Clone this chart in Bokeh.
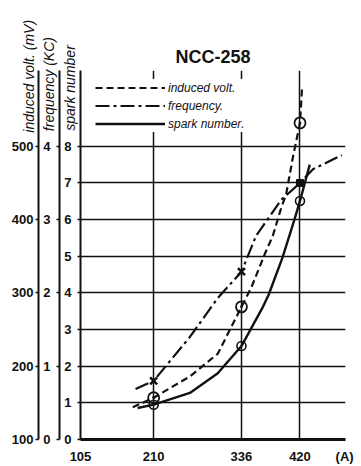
from bokeh.plotting import figure
from bokeh.models import Range1d, LinearAxis, FixedTicker, Legend, LegendItem
from bokeh.embed import file_html
from bokeh.resources import INLINE

# ---------------- data ----------------
current_ticks = [105, 210, 336, 420]          # (A)
unit_tick = 484                               # where "(A)" sits on the x axis
unit_text = "(A)"
marker_current = [210, 336, 420]

volt_ticks = [100, 200, 300, 400, 500]        # induced volt (mV)
freq_ticks = [0, 1, 2, 3, 4]                  # frequency (KC)
spark_ticks = [0, 1, 2, 3, 4, 5, 6, 7, 8]     # spark number

volt_curve_current = [180, 210, 262, 302, 336, 350, 369, 381, 393, 400, 410, 420, 423]
volt_curve_mv = [144, 157, 186, 217, 281, 307, 352, 378, 416, 434, 486, 532, 580]
volt_points_mv = [157, 281, 532]

freq_curve_current = [184, 210, 262, 302, 336, 357, 379, 393, 420, 439, 480]
freq_curve_kc = [0.69, 0.80, 1.40, 1.93, 2.29, 2.78, 3.08, 3.27, 3.50, 3.69, 3.88]
freq_points_kc = [0.80, 2.29, 3.50]

spark_curve_current = [187, 210, 262, 302, 336, 366, 375, 395, 412, 420, 434]
spark_curve_num = [0.86, 0.95, 1.27, 1.81, 2.55, 3.59, 3.95, 4.97, 6.0, 6.51, 7.5]
spark_points_num = [0.95, 2.55, 6.51]

title_text = "NCC-258"
volt_title = "induced volt. (mV)"
freq_title = "frequency (KC)"
spark_title = "spark number"

# ---------------- figure ----------------
INK = "#111111"
TICK_FONT = "Liberation Sans"
HAND_FONT = "Liberation Sans"
NBSP = "\u00a0"

X0, X1 = 105, 485.3
S_TOP = 10.07
p = figure(width=361, height=466, output_backend="svg", toolbar_location=None,
           x_range=Range1d(X0, X1), y_range=Range1d(0, S_TOP),
           min_border_left=80, min_border_right=16, min_border_top=70,
           min_border_bottom=21, outline_line_color=None,
           background_fill_color="white", border_fill_color="white")

p.extra_y_ranges = {
    "freq": Range1d(0, S_TOP / 2.0),
    "volt": Range1d(100, 100 + 50 * S_TOP),
}

p.title.text = title_text
p.title.align = "center"
p.title.offset = -5
p.title.standoff = 7
p.title.text_font = TICK_FONT
p.title.text_font_style = "bold"
p.title.text_font_size = "18px"
p.title.text_color = INK

def style_axis(ax, standoff, title, title_standoff, top_pad):
    ax.axis_line_color = INK
    ax.axis_line_width = 2
    ax.major_tick_line_color = INK
    ax.major_tick_line_width = 1.5
    ax.major_tick_out = 3
    ax.major_tick_in = 0
    ax.minor_tick_line_color = None
    ax.major_label_text_font = TICK_FONT
    ax.major_label_text_font_style = "bold"
    ax.major_label_text_font_size = "13px"
    ax.major_label_text_color = INK
    ax.major_label_standoff = standoff
    ax.axis_label = title + NBSP * top_pad
    ax.axis_label_standoff = title_standoff
    ax.axis_label_text_font = HAND_FONT
    ax.axis_label_text_font_style = "italic"
    ax.axis_label_text_font_size = "14px"
    ax.axis_label_text_color = INK
    if "axis_label_align" in ax.properties():
        ax.axis_label_align = "end"

spark_axis = p.yaxis[0]
spark_axis.ticker = FixedTicker(ticks=spark_ticks)
style_axis(spark_axis, 6, spark_title, -17, 9)

freq_axis = LinearAxis(y_range_name="freq", ticker=FixedTicker(ticks=freq_ticks))
style_axis(freq_axis, 6, freq_title, -17, 7)
p.add_layout(freq_axis, "left")

volt_axis = LinearAxis(y_range_name="volt", ticker=FixedTicker(ticks=volt_ticks))
style_axis(volt_axis, 2, volt_title, -28, 3)
p.add_layout(volt_axis, "left")

xa = p.xaxis[0]
xa.ticker = FixedTicker(ticks=current_ticks + [unit_tick])
xa.major_label_overrides = {unit_tick: unit_text}
xa.axis_line_color = INK
xa.axis_line_width = 3
xa.major_tick_line_color = None
xa.minor_tick_line_color = None
xa.major_label_text_font = TICK_FONT
xa.major_label_text_font_style = "bold"
xa.major_label_text_font_size = "13px"
xa.major_label_text_color = INK
xa.major_label_standoff = 3

p.xgrid.ticker = FixedTicker(ticks=current_ticks[1:])
p.ygrid.ticker = FixedTicker(ticks=spark_ticks[1:])
p.grid.grid_line_color = INK
p.grid.grid_line_width = 1.5

# ---------------- curves ----------------
r_volt = p.line(volt_curve_current, volt_curve_mv, y_range_name="volt",
                line_color=INK, line_width=2.2, line_dash="7 4")
p.scatter(marker_current, volt_points_mv, y_range_name="volt", marker="circle_dot",
          size=11, line_color=INK, line_width=1.8, fill_color=None)

r_freq = p.line(freq_curve_current, freq_curve_kc, y_range_name="freq",
                line_color=INK, line_width=2.2, line_dash="14 4 3 4")
p.scatter(marker_current[:2], freq_points_kc[:2], y_range_name="freq", marker="x",
          size=10, line_color=INK, line_width=2.5)
p.scatter(marker_current[2:], freq_points_kc[2:], y_range_name="freq", marker="square",
          size=7, line_color=INK, fill_color=INK)

r_spark = p.line(spark_curve_current, spark_curve_num,
                 line_color=INK, line_width=2.4)
p.scatter(marker_current, spark_points_num, marker="circle",
          size=9, line_color=INK, line_width=1.6, fill_color=None)

# ---------------- legend ----------------
legend = Legend(items=[
    LegendItem(label="induced volt.", renderers=[r_volt]),
    LegendItem(label="frequency.", renderers=[r_freq]),
    LegendItem(label="spark number.", renderers=[r_spark]),
], location=(15, 307), orientation="vertical",
    glyph_width=70, glyph_height=17, label_height=17, spacing=1,
    padding=2, margin=0, label_standoff=3,
    label_text_font=HAND_FONT, label_text_font_style="italic",
    label_text_font_size="12px", label_text_color=INK,
    background_fill_color="white", background_fill_alpha=1.0,
    border_line_color=None)
p.add_layout(legend)

open("out.html", "w").write(file_html(p, INLINE))
